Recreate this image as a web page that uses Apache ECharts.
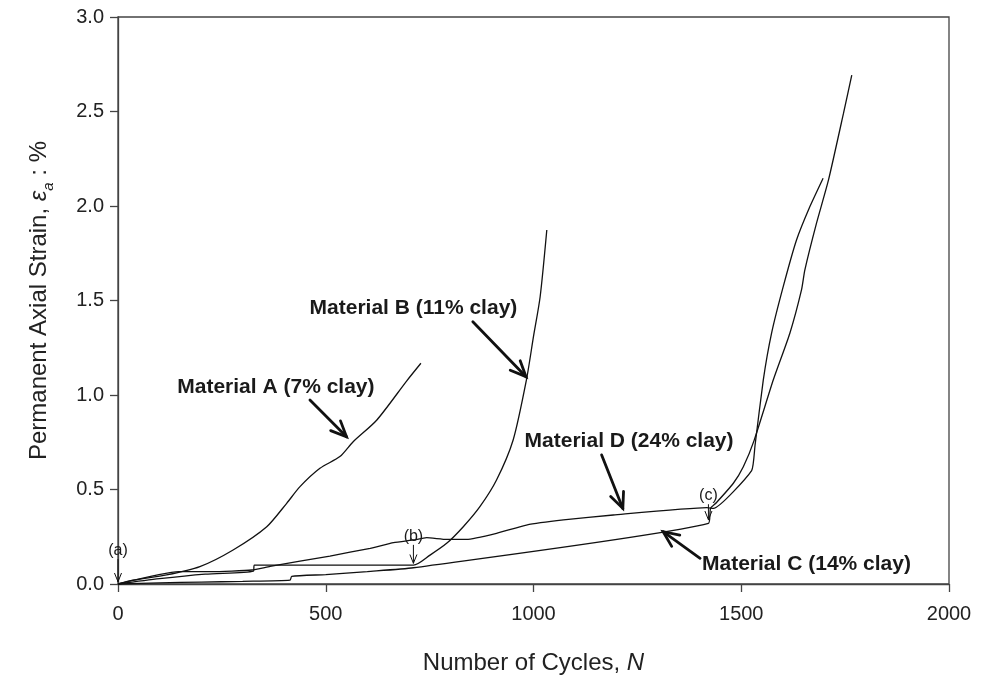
<!DOCTYPE html>
<html>
<head>
<meta charset="utf-8">
<script src="https://cdn.jsdelivr.net/npm/echarts@6/dist/echarts.min.js"></script>
<style>
html,body{margin:0;padding:0;background:#fff;}
#chart{width:981px;height:684px;}
</style>
</head>
<body>
<div id="chart"></div>
<script>
// ---- data ----
const materialA = [[0,0],[36,0.02],[117,0.048],[197,0.092],[277,0.18],[358,0.303],[406,0.427],[438,0.515],[486,0.612],[534,0.674],[566,0.753],[623,0.868],[695,1.075],[729,1.168]];
const materialB = [[0,0],[100,0.028],[210,0.052],[326,0.068],[328,0.100],[711,0.100],[751,0.153],[791,0.215],[831,0.303],[871,0.409],[911,0.55],[951,0.762],[983,1.08],[1000,1.31],[1016,1.52],[1032,1.873]];
const materialC = [[0,0],[100,0.006],[200,0.01],[300,0.014],[414,0.02],[418,0.04],[500,0.05],[600,0.066],[711,0.086],[1421,0.321],[1426,0.40],[1440,0.43],[1481,0.533],[1505,0.62],[1531,0.76],[1577,1.079],[1617,1.327],[1645,1.556],[1653,1.661],[1681,1.908],[1710,2.138],[1746,2.49],[1766,2.693]];
const materialD = [[0,0],[146,0.065],[226,0.065],[322,0.074],[366,0.093],[510,0.148],[607,0.189],[663,0.219],[711,0.233],[743,0.245],[791,0.236],[839,0.236],[911,0.268],[983,0.312],[1072,0.339],[1192,0.365],[1417,0.404],[1433,0.40],[1525,0.60],[1533,0.73],[1553,1.079],[1573,1.327],[1601,1.573],[1633,1.82],[1665,1.996],[1697,2.147]];

const materialNames = ['Material A (7% clay)','Material B (11% clay)','Material D (24% clay)','Material C (14% clay)'];
const materialLabelPos = [[380,1.042],[711,1.460],[1230,0.753],[1657,0.104]];
const materialArrows = [[462,0.974,550,0.779],[854,1.388,982,1.097],[1164,0.683,1215,0.40],[1401,0.136,1312,0.277]];

const stageNames = ['(a)','(b)','(c)'];
const stageLabelPos = [[0,0.175],[711,0.25],[1421,0.47]];
const stageArrows = [[0,0.13,0,0.012],[711,0.205,711,0.11],[1421,0.42,1421,0.34]];

const xTicks = {min:0, max:2000, interval:500};
const yTicks = {min:0, max:3, interval:0.5};

// ---- chart ----
const FONT = '"Liberation Sans", Arial, Helvetica, sans-serif';
const chart = echarts.init(document.getElementById('chart'), null, {renderer:'canvas'});

function makeArrowRender(lw, headLen, headAng){
  return function(params, api){
    const p1 = api.coord([api.value(0), api.value(1)]);
    const p2 = api.coord([api.value(2), api.value(3)]);
    const dx = p2[0]-p1[0], dy = p2[1]-p1[1];
    const len = Math.sqrt(dx*dx+dy*dy) || 1;
    const ux = dx/len, uy = dy/len;
    const a = headAng*Math.PI/180;
    const c = Math.cos(a), s = Math.sin(a);
    const h1 = [p2[0] - headLen*(ux*c - uy*s), p2[1] - headLen*(ux*s + uy*c)];
    const h2 = [p2[0] - headLen*(ux*c + uy*s), p2[1] - headLen*(-ux*s + uy*c)];
    return {
      type:'group',
      children:[
        {type:'line', shape:{x1:p1[0],y1:p1[1],x2:p2[0],y2:p2[1]}, style:{stroke:'#111', lineWidth:lw, lineCap:'round'}},
        {type:'polyline', shape:{points:[h1,p2,h2]}, style:{stroke:'#111', lineWidth:lw, fill:null, lineJoin:'miter', lineCap:'round'}}
      ]
    };
  };
}
function makeTextRender(texts, font){
  return function(params, api){
    const p = api.coord([api.value(0), api.value(1)]);
    return {
      type:'text', x:p[0], y:p[1],
      style:{text:texts[params.dataIndex], font:font, fill:'#1a1a1a',
             align:'center', verticalAlign:'middle', textAlign:'center', textVerticalAlign:'middle'}
    };
  };
}

const lineStyle = {color:'#111', width:1.3};
function curve(name, data, smooth){
  return {name:name, type:'line', data:data, showSymbol:false, symbol:'none',
          smooth:smooth, lineStyle:lineStyle, z:3, clip:false, animation:false};
}

chart.setOption({
  animation:false,
  backgroundColor:'#fff',
  grid:{left:118, right:32, top:17, bottom:100, show:true, borderColor:'#444', borderWidth:1.3, backgroundColor:'transparent'},
  xAxis:{
    type:'value', min:xTicks.min, max:xTicks.max, interval:xTicks.interval,
    name:'{t|Number of Cycles, }{i|N}', nameLocation:'middle', nameGap:67,
    nameTextStyle:{rich:{t:{fontSize:24, fontFamily:FONT, color:'#222'}, i:{fontSize:24, fontFamily:FONT, fontStyle:'italic', color:'#222'}}},
    axisLine:{show:true, lineStyle:{color:'#444', width:1.3}},
    axisTick:{show:true, length:8, lineStyle:{color:'#444', width:1.3}},
    axisLabel:{fontSize:20, fontFamily:FONT, color:'#222', margin:20, formatter:function(v){return String(v);}},
    splitLine:{show:false}
  },
  yAxis:{
    type:'value', min:yTicks.min, max:yTicks.max, interval:yTicks.interval,
    name:'{t|Permanent Axial Strain, }{e|ε}{s|a}{t| : %}', nameLocation:'middle', nameGap:62,
    nameTextStyle:{rich:{
      t:{fontSize:24, fontFamily:FONT, color:'#222', lineHeight:34, verticalAlign:'middle'},
      e:{fontSize:24, fontFamily:FONT, fontStyle:'italic', color:'#222', lineHeight:34, verticalAlign:'middle'},
      s:{fontSize:15, fontFamily:FONT, fontStyle:'italic', color:'#222', lineHeight:34, verticalAlign:'bottom'}
    }},
    axisLine:{show:true, lineStyle:{color:'#444', width:1.3}},
    axisTick:{show:true, length:8, lineStyle:{color:'#444', width:1.3}},
    axisLabel:{fontSize:20, fontFamily:FONT, color:'#222', margin:14, formatter:function(v){return v.toFixed(1);}},
    splitLine:{show:false}
  },
  series:[
    curve('Material A', materialA, 0.25),
    curve('Material B', materialB, 0.25),
    curve('Material C', materialC, 0.2),
    curve('Material D', materialD, 0.15),
    {type:'custom', name:'materialArrows', data:materialArrows, renderItem:makeArrowRender(2.8,17,24), clip:false, z:4, silent:true},
    {type:'custom', name:'stageArrows', data:stageArrows, renderItem:makeArrowRender(1,9,22), clip:false, z:4, silent:true},
    {type:'custom', name:'materialLabels', data:materialLabelPos, renderItem:makeTextRender(materialNames, 'bold 21px ' + FONT), clip:false, z:5, silent:true},
    {type:'custom', name:'stageLabels', data:stageLabelPos, renderItem:makeTextRender(stageNames, '16px ' + FONT), clip:false, z:5, silent:true}
  ]
});
</script>
</body>
</html>
